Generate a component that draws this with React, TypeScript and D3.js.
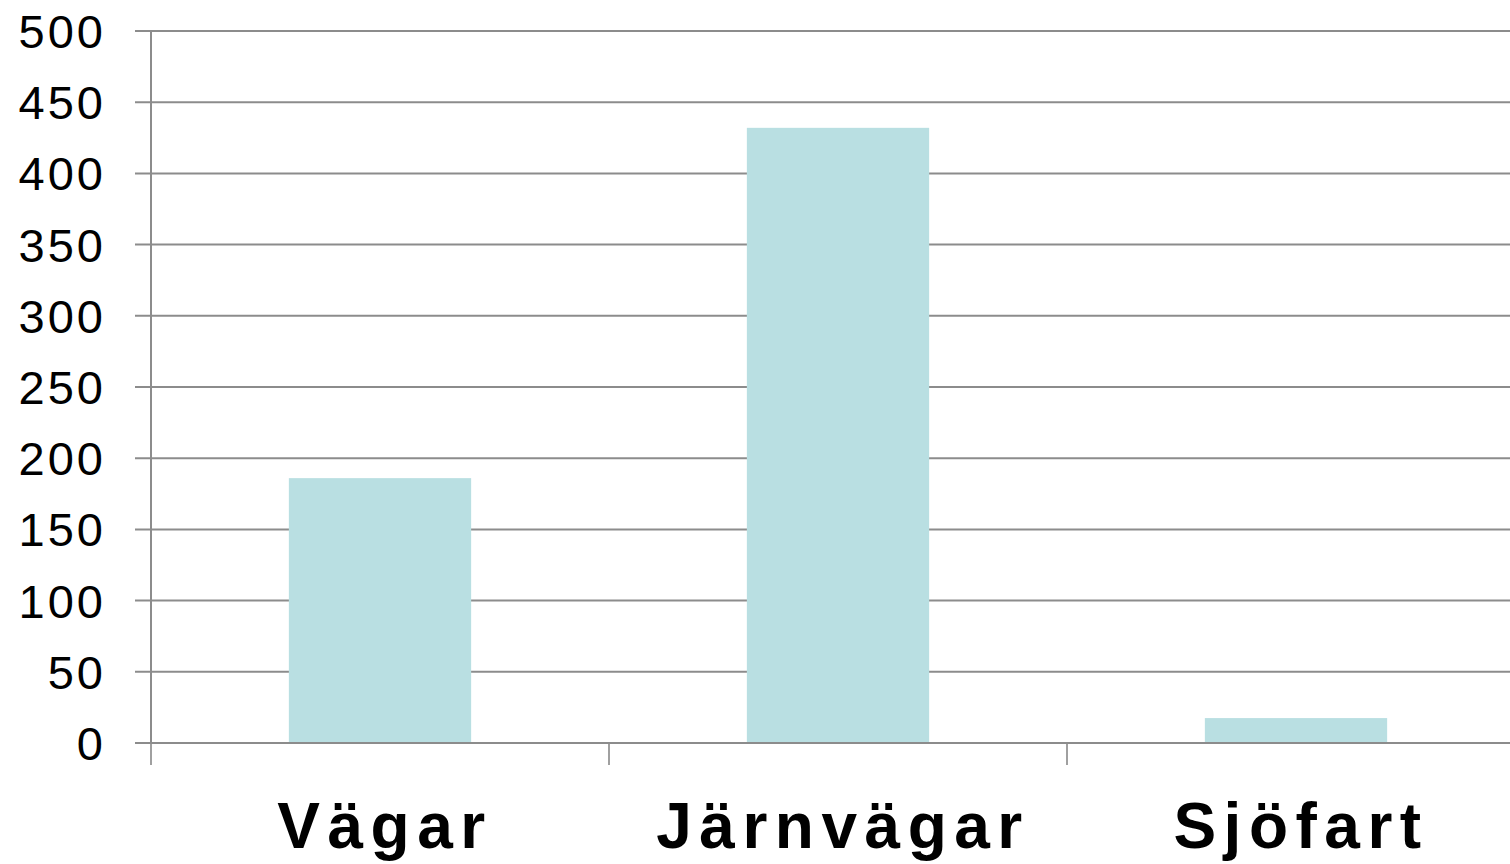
import React, { useEffect, useRef } from "react";
import * as d3 from "d3";

// categories and values
const categories = ["Vägar", "Järnvägar", "Sjöfart"];
const values = [186, 432, 17.5];
const yTicks = [0, 50, 100, 150, 200, 250, 300, 350, 400, 450, 500];

const App = () => {
  const ref = useRef<SVGSVGElement | null>(null);

  useEffect(() => {
    const svg = d3.select(ref.current);
    svg.selectAll("*").remove();

    const left = 151;
    const step = 458;
    const x = d3
      .scaleBand<string>()
      .domain(categories)
      .range([left, left + step * categories.length])
      .padding(0);
    const y = d3.scaleLinear().domain([0, 500]).range([743, 31]);

    const grid = "#8c8c8c";

    // horizontal gridlines
    svg
      .append("g")
      .selectAll("line")
      .data(yTicks)
      .join("line")
      .attr("x1", 135)
      .attr("x2", 1510)
      .attr("y1", (d) => y(d))
      .attr("y2", (d) => y(d))
      .attr("stroke", grid)
      .attr("stroke-width", 2);

    // y axis line
    svg
      .append("line")
      .attr("x1", left)
      .attr("x2", left)
      .attr("y1", y(500))
      .attr("y2", y(0))
      .attr("stroke", grid)
      .attr("stroke-width", 2);

    // category tick marks
    svg
      .append("g")
      .selectAll("line")
      .data(categories)
      .join("line")
      .attr("x1", (d) => x(d)!)
      .attr("x2", (d) => x(d)!)
      .attr("y1", y(0))
      .attr("y2", y(0) + 22)
      .attr("stroke", "#a0a0a0")
      .attr("stroke-width", 2);

    // bars
    const bw = x.bandwidth() * 0.398;
    svg
      .append("g")
      .selectAll("rect")
      .data(values)
      .join("rect")
      .attr("x", (_, i) => x(categories[i])! + (x.bandwidth() - bw) / 2)
      .attr("width", bw)
      .attr("y", (d) => y(d))
      .attr("height", (d) => y(0) - y(d))
      .attr("fill", "#b9dfe2");

    // redraw baseline on top of bars
    svg
      .append("line")
      .attr("x1", 135)
      .attr("x2", 1510)
      .attr("y1", y(0))
      .attr("y2", y(0))
      .attr("stroke", grid)
      .attr("stroke-width", 2);

    // y labels
    svg
      .append("g")
      .selectAll("text")
      .data(yTicks)
      .join("text")
      .attr("x", 106)
      .attr("y", (d) => y(d) + 17)
      .attr("text-anchor", "end")
      .attr("font-family", "Liberation Sans, Arial, sans-serif")
      .attr("font-size", 47)
      .attr("letter-spacing", 3)
      .attr("fill", "#000")
      .text((d) => d);

    // category labels
    svg
      .append("g")
      .selectAll("text")
      .data(categories)
      .join("text")
      .attr("x", (d) => x(d)! + x.bandwidth() / 2 + 5)
      .attr("y", 848)
      .attr("text-anchor", "middle")
      .attr("font-family", "Liberation Sans, Arial, sans-serif")
      .attr("font-weight", "bold")
      .attr("font-size", 64)
      .attr("letter-spacing", 7.5)
      .attr("fill", "#000")
      .text((d) => d);
  }, []);

  return (
    <svg
      ref={ref}
      width="1510"
      height="864"
      style={{ position: "absolute", left: 0, top: 0, background: "#fff" }}
    ></svg>
  );
};

export default App;
